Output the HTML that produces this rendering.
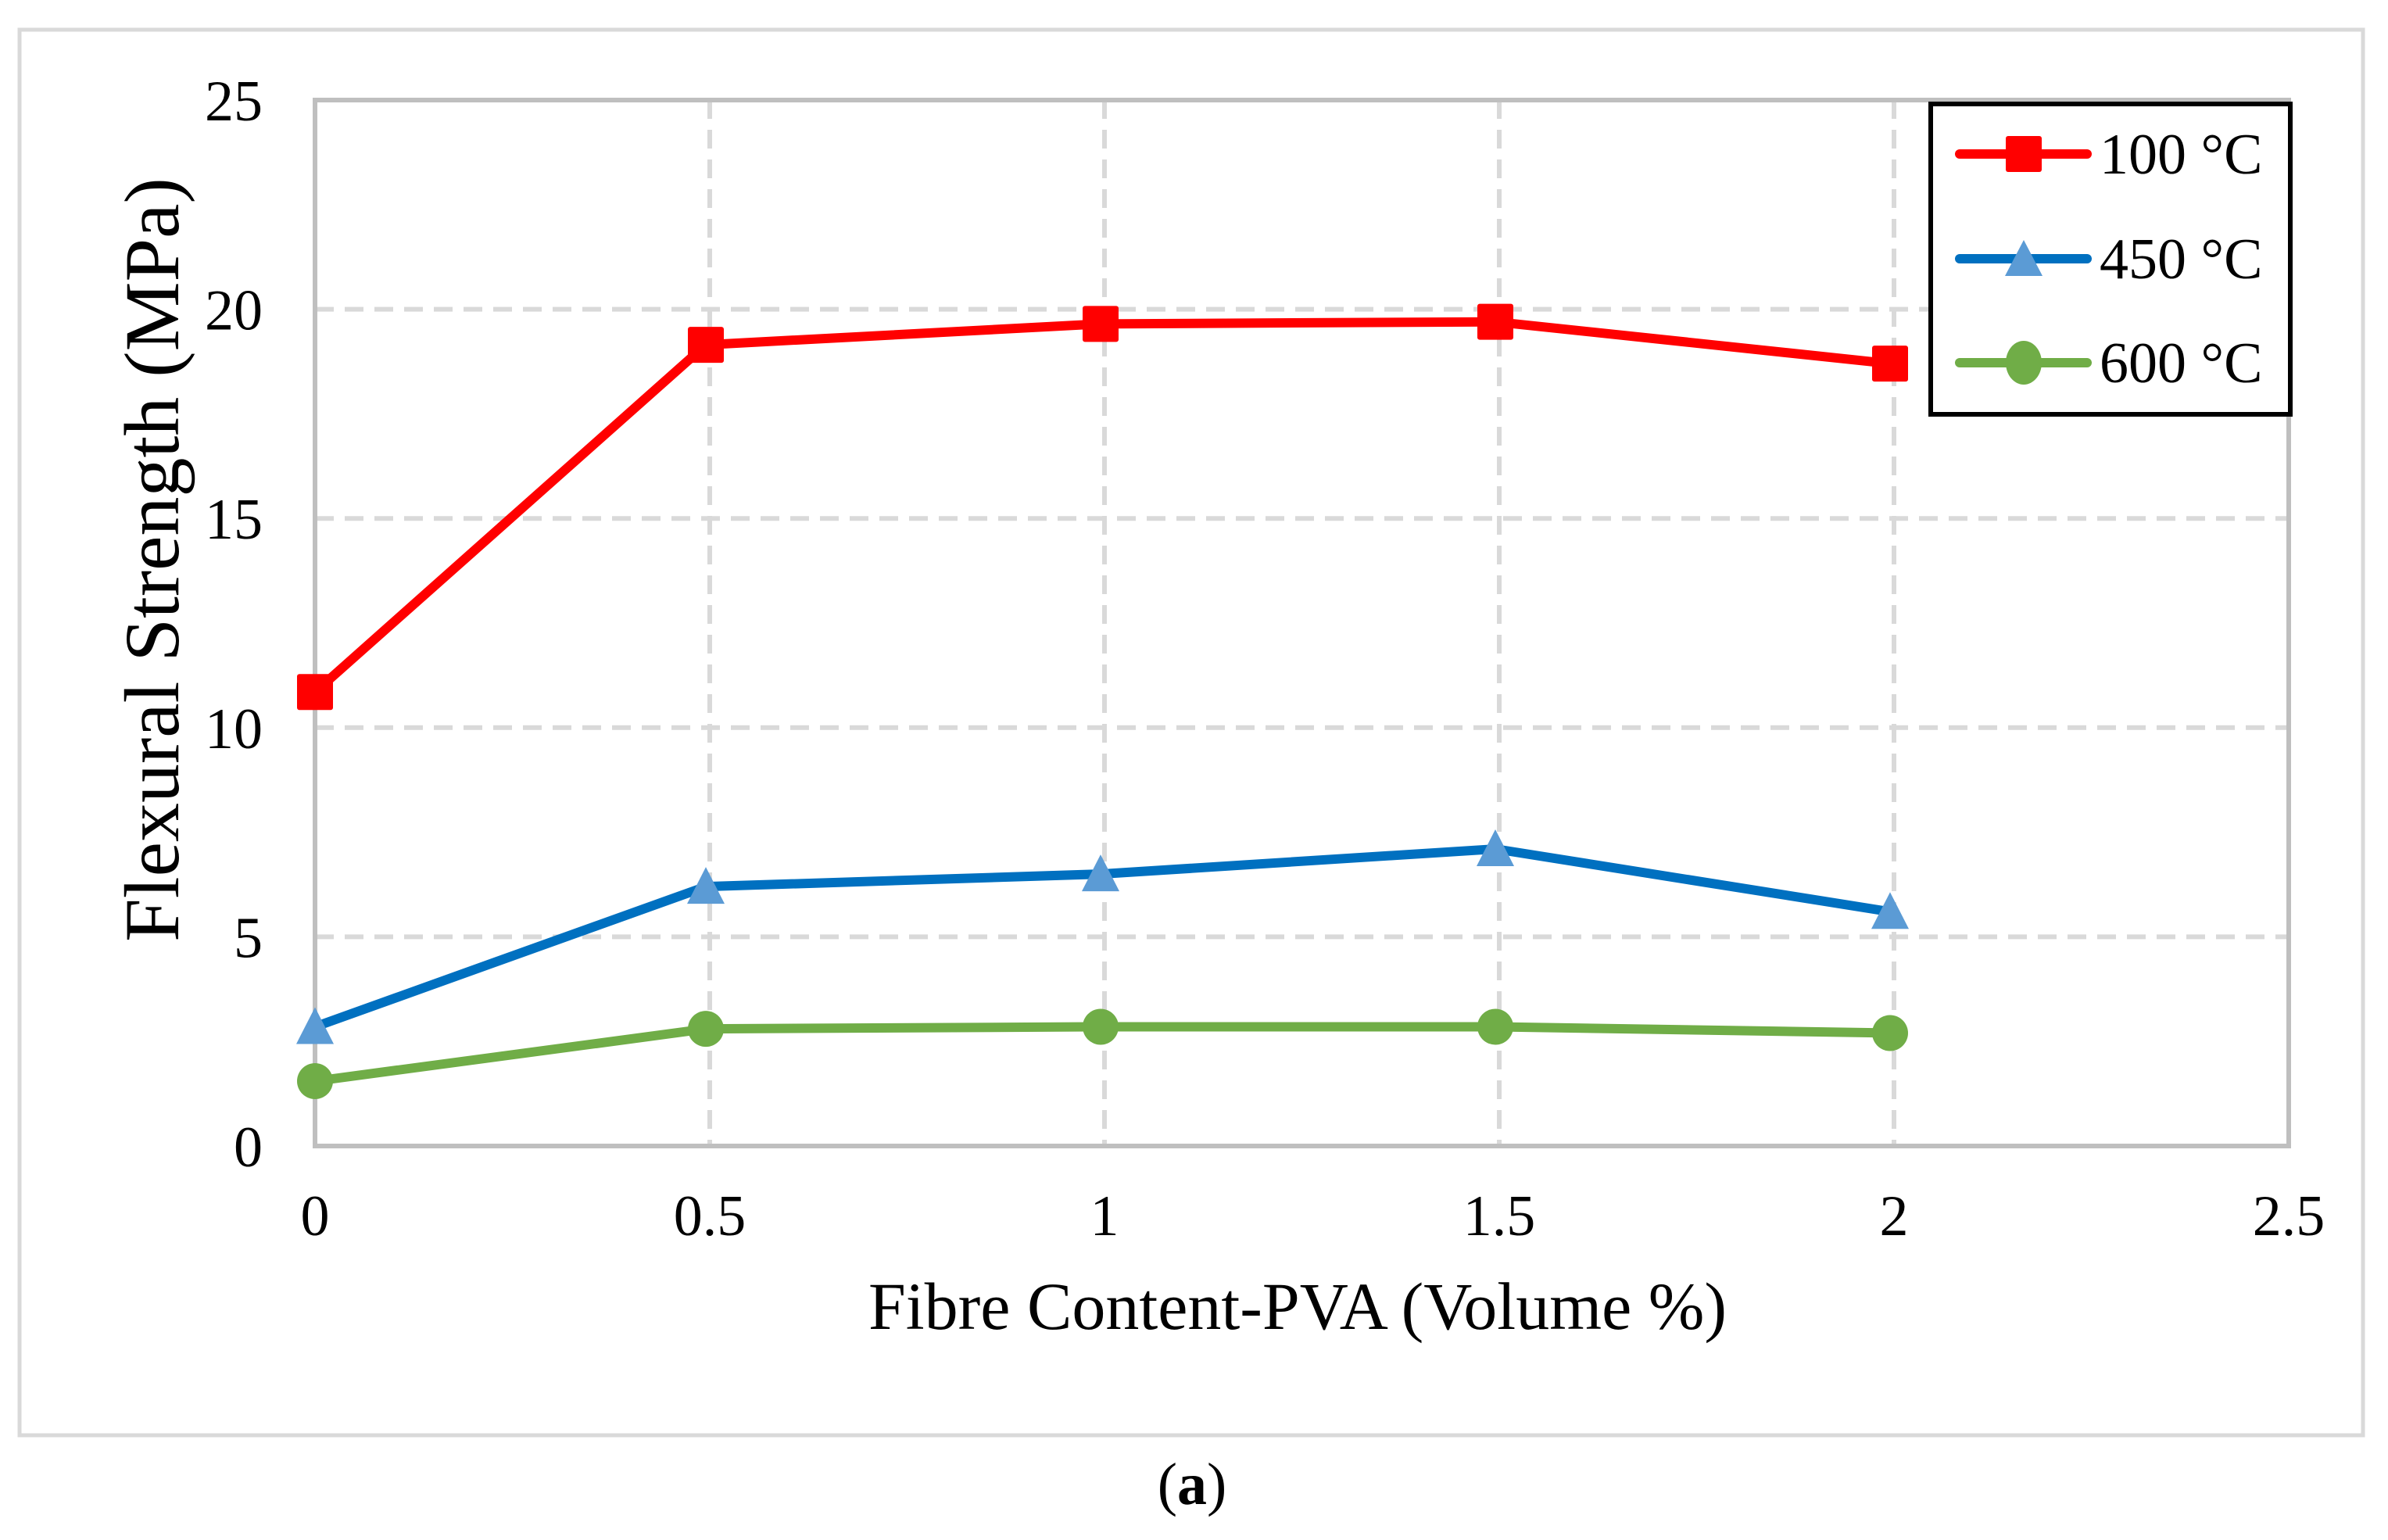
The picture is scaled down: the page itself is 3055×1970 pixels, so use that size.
<!DOCTYPE html>
<html><head><meta charset="utf-8">
<style>
html,body{margin:0;padding:0;background:#fff;}
svg{display:block;}
text{font-family:"Liberation Serif","DejaVu Serif",serif;fill:#000;}
</style></head>
<body>
<svg id="chart" width="3055" height="1970" viewBox="0 0 3055 1970" xmlns="http://www.w3.org/2000/svg">
<rect x="25" y="38" width="2998" height="1798" fill="#fff" stroke="#d9d9d9" stroke-width="5"/>
<g id="grid"></g>
<g id="axes"></g>
<g id="series"></g>
<text transform="translate(228,716) rotate(-90)" text-anchor="middle" font-size="100">Flexural Strength (MPa)</text>
<text x="1660" y="1700" text-anchor="middle" font-size="86">Fibre Content-PVA (Volume %)</text>
<text x="1525" y="1924" text-anchor="middle" font-size="76">(<tspan font-weight="bold">a</tspan>)</text>
<g>
<rect x="2470" y="133" width="460" height="397" fill="#fff" stroke="#000" stroke-width="6"/>
<g>
<line x1="2507" y1="197" x2="2670" y2="197" stroke="#ff0000" stroke-width="12" stroke-linecap="round"/>
<rect x="2566" y="174" width="46" height="46" fill="#ff0000" rx="3"/>
<text x="2686" y="222" font-size="74">100 °C</text></g>
<g>
<line x1="2507" y1="331" x2="2670" y2="331" stroke="#0070c0" stroke-width="12" stroke-linecap="round"/>
<polygon points="2589,307 2613,353 2565,353" fill="#5b9bd5"/>
<text x="2686" y="356" font-size="74">450 °C</text></g>
<g>
<line x1="2507" y1="464" x2="2670" y2="464" stroke="#70ad47" stroke-width="12" stroke-linecap="round"/>
<ellipse cx="2589" cy="464" rx="23" ry="28" fill="#70ad47"/>
<text x="2686" y="489" font-size="74">600 °C</text></g>
</g>
</svg>
<script>
const xCategories = [0, 0.5, 1, 1.5, 2];
const series100 = [10.85, 19.15, 19.65, 19.7, 18.7];
const series450 = [2.85, 6.2, 6.5, 7.1, 5.6];
const series600 = [1.55, 2.8, 2.85, 2.85, 2.7];
const xTicks = [0, 0.5, 1, 1.5, 2, 2.5];
const yTicks = [0, 5, 10, 15, 20, 25];

const NS = 'http://www.w3.org/2000/svg';
const L = 403, R = 2928, T = 128, B = 1466;
const xS = v => L + (v / 2.5) * (R - L) - (v > 0 ? 5 : 0);
const xG = v => L + (v / 2.5) * (R - L);
const yS = v => B - (v / 25) * (B - T);
function mk(tag, attrs, parent) {
  const e = document.createElementNS(NS, tag);
  for (const k in attrs) e.setAttribute(k, attrs[k]);
  parent.appendChild(e);
  return e;
}
const grid = document.getElementById('grid');
const axes = document.getElementById('axes');
const ser = document.getElementById('series');

yTicks.forEach(t => {
  if (t > 0 && t < 25) {
    const g = mk('line', {x1: L, x2: R, y1: yS(t), y2: yS(t), stroke: '#d9d9d9', 'stroke-width': 6, 'stroke-dasharray': '24 14'}, grid);
    
    
  }
  const tx = mk('text', {x: 336, y: yS(t) + 26, 'text-anchor': 'end', 'font-size': 74}, axes);
  tx.textContent = t;
  
  
});
xTicks.forEach(t => {
  if (t > 0 && t < 2.5) {
    const g = mk('line', {x1: xG(t), x2: xG(t), y1: T, y2: B, stroke: '#d9d9d9', 'stroke-width': 6, 'stroke-dasharray': '24 14'}, grid);
    
    
  }
  const tx = mk('text', {x: xG(t), y: 1580, 'text-anchor': 'middle', 'font-size': 74}, axes);
  tx.textContent = t;
  
  
});
const frame = mk('rect', {x: L, y: T, width: R - L, height: B - T, fill: 'none', stroke: '#bfbfbf', 'stroke-width': 6}, axes);



function drawSeries(vals, color, mcolor, marker, name) {
  const g = mk('g', {}, ser);
  
  
  const pts = vals.map((v, i) => xS(xCategories[i]) + ',' + yS(v)).join(' ');
  const pl = mk('polyline', {points: pts, fill: 'none', stroke: color, 'stroke-width': 12, 'stroke-linejoin': 'round'}, g);
  
  
  vals.forEach((v, i) => {
    const x = xS(xCategories[i]), y = yS(v);
    let m;
    if (marker === 'square') m = mk('rect', {x: x - 23, y: y - 23, width: 46, height: 46, rx: 3, fill: mcolor}, g);
    else if (marker === 'triangle') m = mk('polygon', {points: `${x},${y - 25} ${x + 24},${y + 22} ${x - 24},${y + 22}`, fill: mcolor}, g);
    else m = mk('ellipse', {cx: x, cy: y, rx: 23, ry: 23, fill: mcolor}, g);
    
    
  });
}
drawSeries(series600, '#70ad47', '#70ad47', 'circle', 'series-600c');
drawSeries(series450, '#0070c0', '#5b9bd5', 'triangle', 'series-450c');
drawSeries(series100, '#ff0000', '#ff0000', 'square', 'series-100c');
</script>
</body></html>
